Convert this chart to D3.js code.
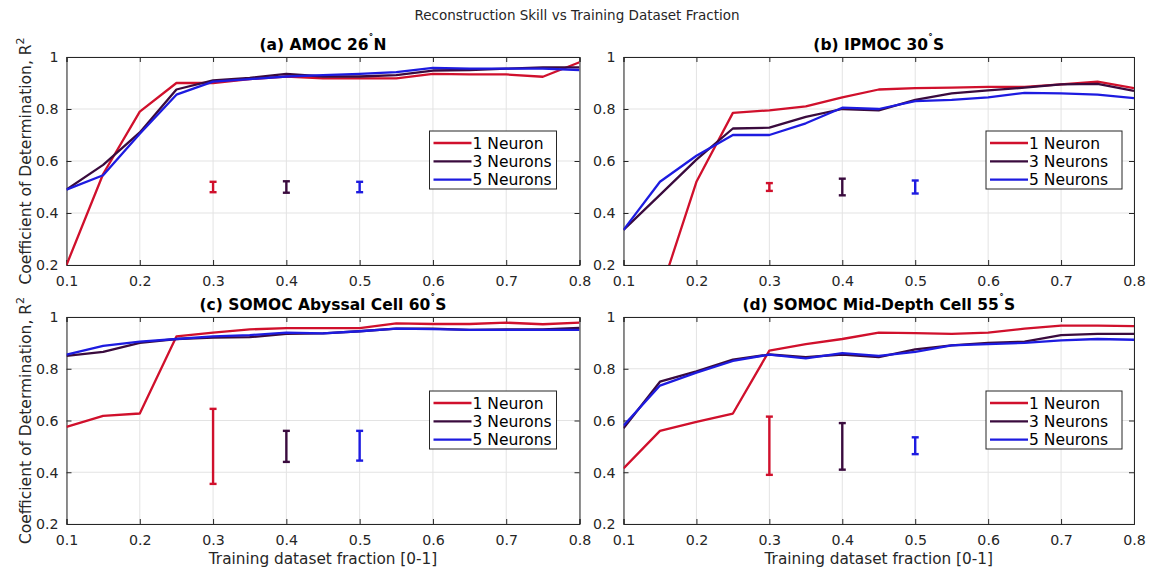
<!DOCTYPE html>
<html><head><meta charset="utf-8">
<script src="https://cdn.jsdelivr.net/npm/d3@7"></script>
<style>body{margin:0;background:#fff}svg{display:block;font-family:"DejaVu Sans",sans-serif}</style>
</head><body><svg id="c" width="1151" height="570"></svg>
<script>
const xs = [0.1,0.15,0.2,0.25,0.3,0.35,0.4,0.45,0.5,0.55,0.6,0.65,0.7,0.75,0.8];
const seriesNames = ["1 Neuron","3 Neurons","5 Neurons"];
const colors = ["#d0102c","#3a0b3e","#1d1be0"];
const xTicks = [0.1,0.2,0.3,0.4,0.5,0.6,0.7,0.8];
const yTicks = [0.2,0.4,0.6,0.8,1];
const errX = [0.3,0.4,0.5];

const aN1 = [0.2,0.55,0.79,0.90,0.90,0.915,0.925,0.918,0.918,0.918,0.935,0.933,0.933,0.924,0.98];
const aN3 = [0.49,0.585,0.71,0.875,0.91,0.92,0.935,0.925,0.925,0.93,0.948,0.95,0.955,0.96,0.96];
const aN5 = [0.49,0.545,0.705,0.855,0.905,0.915,0.925,0.93,0.935,0.942,0.958,0.955,0.955,0.955,0.95];
const aErr = [[0.48,0.52],[0.478,0.522],[0.48,0.52]];

const bN1 = [-0.2,0.09,0.52,0.785,0.795,0.81,0.845,0.875,0.88,0.882,0.885,0.885,0.895,0.905,0.88];
const bN3 = [0.335,0.47,0.605,0.725,0.728,0.77,0.80,0.795,0.835,0.86,0.872,0.882,0.895,0.897,0.87];
const bN5 = [0.335,0.52,0.62,0.70,0.70,0.745,0.805,0.80,0.83,0.835,0.845,0.862,0.86,0.855,0.842];
const bErr = [[0.485,0.515],[0.468,0.532],[0.475,0.525]];

const cN1 = [0.575,0.618,0.627,0.925,0.94,0.952,0.957,0.957,0.957,0.975,0.973,0.973,0.978,0.972,0.978];
const cN3 = [0.85,0.865,0.9,0.915,0.92,0.922,0.935,0.937,0.945,0.955,0.955,0.95,0.952,0.952,0.958];
const cN5 = [0.855,0.888,0.905,0.915,0.925,0.93,0.94,0.937,0.945,0.955,0.953,0.95,0.95,0.95,0.95];
const cErr = [[0.355,0.645],[0.44,0.56],[0.445,0.56]];

const dN1 = [0.415,0.56,0.595,0.627,0.87,0.895,0.915,0.94,0.938,0.935,0.94,0.955,0.967,0.967,0.965];
const dN3 = [0.57,0.75,0.79,0.835,0.855,0.845,0.855,0.845,0.875,0.89,0.9,0.905,0.93,0.935,0.935];
const dN5 = [0.58,0.735,0.785,0.83,0.855,0.84,0.86,0.85,0.865,0.89,0.895,0.9,0.91,0.915,0.912];
const dErr = [[0.39,0.615],[0.41,0.59],[0.47,0.535]];

const panels = [
  {title:["(a) AMOC 26","N"], series:[aN1,aN3,aN5], err:aErr, x0:66.5, x1:579.5, y0:57, y1:265, ylab:true, xlab:false},
  {title:["(b) IPMOC 30","S"], series:[bN1,bN3,bN5], err:bErr, x0:623.5, x1:1134, y0:57, y1:265, ylab:false, xlab:false},
  {title:["(c) SOMOC Abyssal Cell 60","S"], series:[cN1,cN3,cN5], err:cErr, x0:66.5, x1:579.5, y0:317, y1:524, ylab:true, xlab:true},
  {title:["(d) SOMOC Mid-Depth Cell 55","S"], series:[dN1,dN3,dN5], err:dErr, x0:623.5, x1:1134, y0:317, y1:524, ylab:false, xlab:true}
];

const svg = d3.select("#c");
svg.append("text").attr("x",577).attr("y",20).attr("text-anchor","middle")
  .attr("font-size",13.5).attr("fill","#262626").text("Reconstruction Skill vs Training Dataset Fraction");

panels.forEach((p,pi)=>{
  const x = d3.scaleLinear().domain([0.1,0.8]).range([p.x0,p.x1]);
  const y = d3.scaleLinear().domain([0.2,1]).range([p.y1,p.y0]);
  const g = svg.append("g");
  const cid = "clip"+pi;
  g.append("clipPath").attr("id",cid).append("rect")
    .attr("x",p.x0).attr("y",p.y0).attr("width",p.x1-p.x0).attr("height",p.y1-p.y0);
  // grid
  g.selectAll(".gx").data(xTicks).join("line").attr("x1",d=>x(d)).attr("x2",d=>x(d))
    .attr("y1",p.y0).attr("y2",p.y1).attr("stroke","#e3e3e3").attr("stroke-width",1);
  g.selectAll(".gy").data(yTicks).join("line").attr("y1",d=>y(d)).attr("y2",d=>y(d))
    .attr("x1",p.x0).attr("x2",p.x1).attr("stroke","#e3e3e3").attr("stroke-width",1);
  // axes
  const ax = g.append("g").attr("transform",`translate(0,${p.y1})`)
    .call(d3.axisBottom(x).tickValues(xTicks).tickSize(-5).tickPadding(11).tickFormat(d3.format("")));
  const axT = g.append("g").attr("transform",`translate(0,${p.y0})`)
    .call(d3.axisTop(x).tickValues(xTicks).tickSize(-5).tickFormat(""));
  const ay = g.append("g").attr("transform",`translate(${p.x0},0)`)
    .call(d3.axisLeft(y).tickValues(yTicks).tickSize(-5).tickPadding(8).tickFormat(d3.format("")));
  const ayR = g.append("g").attr("transform",`translate(${p.x1},0)`)
    .call(d3.axisRight(y).tickValues(yTicks).tickSize(-5).tickFormat(""));
  [ax,axT,ay,ayR].forEach(a=>{
    a.select(".domain").attr("stroke","#262626").attr("stroke-width",1);
    a.selectAll(".tick line").attr("stroke","#262626");
    a.selectAll("text").attr("font-size",14.2).attr("fill","#262626").attr("font-family","DejaVu Sans");
  });
  ay.selectAll(".tick text").attr("dy","0.35em");
  // lines
  const line = d3.line().x((d,i)=>x(xs[i])).y(d=>y(d));
  const lg = g.append("g").attr("clip-path",`url(#${cid})`);
  p.series.forEach((s,si)=>{
    lg.append("path").datum(s).attr("d",line).attr("fill","none")
      .attr("stroke",colors[si]).attr("stroke-width",2.3).attr("stroke-linejoin","round");
  });
  // error bars
  p.err.forEach((e,ei)=>{
    const cx = x(errX[ei]);
    const eg = g.append("g").attr("stroke",colors[ei]).attr("stroke-width",2.4);
    eg.append("line").attr("x1",cx).attr("x2",cx).attr("y1",y(e[0])).attr("y2",y(e[1]));
    eg.append("line").attr("x1",cx-3.5).attr("x2",cx+3.5).attr("y1",y(e[0])).attr("y2",y(e[0]));
    eg.append("line").attr("x1",cx-3.5).attr("x2",cx+3.5).attr("y1",y(e[1])).attr("y2",y(e[1]));
  });
  // title
  const tcx = (p.x0+p.x1)/2;
  const tt = g.append("text").attr("x",tcx).attr("y",p.y0-7).attr("text-anchor","middle")
    .attr("font-size",15.5).attr("font-weight","bold").attr("fill","#000");
  tt.append("tspan").text(p.title[0]);
  tt.append("tspan").attr("font-size",10).attr("dy",-8).text("\u02da");
  tt.append("tspan").attr("dy",8).text(p.title[1]);
  // y label
  if(p.ylab){
    const yl = g.append("text").attr("transform",`translate(31,${(p.y0+p.y1)/2}) rotate(-90)`)
      .attr("text-anchor","middle").attr("font-size",15.5).attr("fill","#262626");
    yl.append("tspan").text("Coefficient of Determination, R");
    yl.append("tspan").attr("font-size",11).attr("dy",-7).text("2");
  }
  if(p.xlab){
    g.append("text").attr("x",tcx).attr("y",p.y1+40).attr("text-anchor","middle")
      .attr("font-size",15.3).attr("fill","#262626").text("Training dataset fraction [0-1]");
  }
  // legend
  const lw = pi%2===0 ? 127 : 136;
  const lx = p.x1 - (pi%2===0 ? 150 : 148), ly = p.y0 + 74;
  const leg = g.append("g");
  leg.append("rect").attr("x",lx).attr("y",ly).attr("width",lw).attr("height",58)
    .attr("fill","#fff").attr("stroke","#262626").attr("stroke-width",1);
  seriesNames.forEach((n,ni)=>{
    const yy = ly + 12 + ni*18.3;
    leg.append("line").attr("x1",lx+4).attr("x2",lx+42).attr("y1",yy).attr("y2",yy)
      .attr("stroke",colors[ni]).attr("stroke-width",2.3);
    leg.append("text").attr("x",lx+43).attr("y",yy).attr("dy","0.36em")
      .attr("font-size",15.5).attr("fill","#000").text(n);
  });
});
</script></body></html>
